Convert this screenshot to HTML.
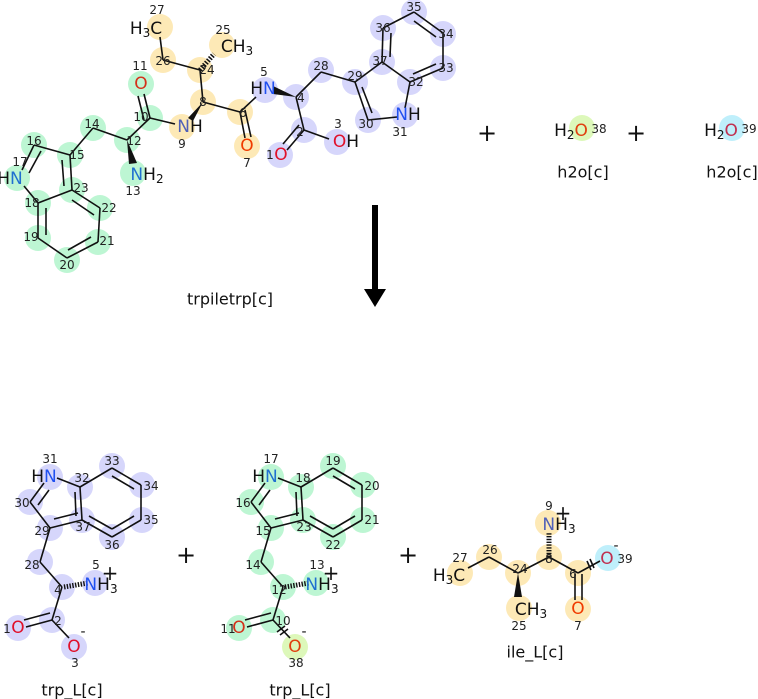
<!DOCTYPE html>
<html><head><meta charset="utf-8"><style>
html,body{margin:0;padding:0;background:#fff;}
svg{display:block;font-family:"DejaVu Sans","Liberation Sans",sans-serif;}
.n{font-size:12px;fill:#222;text-anchor:middle;dominant-baseline:central;}
.a{font-size:17px;text-anchor:middle;dominant-baseline:central;}
.l{font-size:16px;fill:#111;text-anchor:middle;dominant-baseline:central;}
line{stroke:#111;stroke-width:1.6;}
.Y{fill:#fde9b6}.G{fill:#bdf6d3}.B{fill:#d6d6fb}.C{fill:#bfeffb}.L{fill:#ddf8ba}
</style></head><body>
<svg width="758" height="699" viewBox="0 0 758 699">
<g>
<circle class="Y" cx="160" cy="27" r="13"/><circle class="Y" cx="222" cy="45" r="13"/><circle class="Y" cx="163" cy="60" r="13"/><circle class="Y" cx="200" cy="70" r="13"/><circle class="Y" cx="203" cy="102" r="13"/><circle class="Y" cx="240" cy="112" r="13"/><circle class="Y" cx="247" cy="146" r="13"/><circle class="Y" cx="182" cy="127" r="13"/>
<circle class="B" cx="265" cy="90" r="13"/><circle class="B" cx="296" cy="97" r="13"/><circle class="B" cx="321" cy="70" r="13"/><circle class="B" cx="355" cy="82" r="13"/><circle class="B" cx="382" cy="62" r="13"/><circle class="B" cx="383" cy="28" r="13"/><circle class="B" cx="414" cy="12" r="13"/><circle class="B" cx="443" cy="34" r="13"/><circle class="B" cx="443" cy="68" r="13"/><circle class="B" cx="410" cy="82" r="13"/><circle class="B" cx="405" cy="115" r="13"/><circle class="B" cx="368" cy="120" r="13"/><circle class="B" cx="304" cy="130" r="13"/><circle class="B" cx="280" cy="155" r="13"/><circle class="B" cx="337" cy="142" r="13"/>
<circle class="G" cx="141" cy="84" r="13"/><circle class="G" cx="150" cy="118" r="13"/><circle class="G" cx="127" cy="140" r="13"/><circle class="G" cx="133" cy="173" r="13"/><circle class="G" cx="93" cy="128" r="13"/><circle class="G" cx="70" cy="155" r="13"/><circle class="G" cx="34" cy="145" r="13"/><circle class="G" cx="17" cy="178" r="13"/><circle class="G" cx="38" cy="203" r="13"/><circle class="G" cx="72" cy="190" r="13"/><circle class="G" cx="100" cy="208" r="13"/><circle class="G" cx="98" cy="242" r="13"/><circle class="G" cx="67" cy="260" r="13"/><circle class="G" cx="38" cy="238" r="13"/>
</g>
<g>
<line x1="160" y1="37" x2="163" y2="60"/><line x1="163" y1="60" x2="200" y2="70"/>
<line x1="200" y1="70" x2="214" y2="54" stroke-dasharray="1.5 1.5" style="stroke-width:5"/>
<line x1="200" y1="70" x2="203" y2="102"/>
<polygon points="203,102 188,118 193,121" fill="#111"/>
<line x1="203" y1="102" x2="240" y2="112"/>
<line x1="240" y1="112" x2="245" y2="138"/><line x1="245" y1="110" x2="251" y2="137"/>
<line x1="240" y1="112" x2="256" y2="97"/>
<polygon points="296,97 273,86 273,94" fill="#111"/>
<line x1="296" y1="97" x2="321" y2="72"/><line x1="321" y1="72" x2="355" y2="82"/>
<line x1="296" y1="97" x2="304" y2="130"/>
<line x1="304" y1="130" x2="287" y2="150"/><line x1="299" y1="125" x2="283" y2="144"/>
<line x1="304" y1="130" x2="329" y2="139"/>
<line x1="355" y1="82" x2="368" y2="120"/><line x1="362" y1="87" x2="372" y2="113"/>
<line x1="368" y1="120" x2="397" y2="117"/><line x1="405" y1="108" x2="410" y2="82"/>
<line x1="410" y1="82" x2="382" y2="62"/><line x1="382" y1="62" x2="355" y2="82"/>
<line x1="382" y1="62" x2="383" y2="28"/><line x1="390" y1="57" x2="391" y2="33"/>
<line x1="383" y1="28" x2="414" y2="12"/><line x1="414" y1="12" x2="443" y2="33"/><line x1="414" y1="21" x2="436" y2="37"/>
<line x1="443" y1="33" x2="443" y2="68"/><line x1="443" y1="68" x2="410" y2="82"/><line x1="436" y1="64" x2="413" y2="74"/>
<line x1="175" y1="124" x2="150" y2="118"/>
<line x1="150" y1="118" x2="144" y2="94"/><line x1="144" y1="120" x2="138" y2="96"/>
<line x1="150" y1="118" x2="127" y2="140"/>
<polygon points="127,140 129,164 137,163" fill="#111"/>
<line x1="127" y1="140" x2="93" y2="128"/><line x1="93" y1="128" x2="70" y2="155"/>
<line x1="70" y1="155" x2="34" y2="145"/>
<line x1="34" y1="145" x2="22" y2="170"/><line x1="41" y1="151" x2="29" y2="173"/>
<line x1="24" y1="186" x2="38" y2="203"/><line x1="38" y1="203" x2="72" y2="190"/>
<line x1="72" y1="190" x2="70" y2="155"/><line x1="64" y1="186" x2="62" y2="160"/>
<line x1="38" y1="203" x2="38" y2="238"/><line x1="46" y1="208" x2="46" y2="235"/>
<line x1="38" y1="238" x2="67" y2="258"/><line x1="67" y1="258" x2="98" y2="242"/><line x1="68" y1="250" x2="91" y2="237"/>
<line x1="98" y1="242" x2="100" y2="208"/><line x1="100" y1="208" x2="72" y2="190"/><line x1="94" y1="215" x2="72" y2="200"/>
</g>
<g>
<text class="a" x="146" y="29" fill="#111">H<tspan font-size="12" dy="4">3</tspan><tspan dy="-4">C</tspan></text>
<text class="a" x="237" y="47" fill="#111">CH<tspan font-size="12" dy="4">3</tspan></text>
<text class="a" x="141" y="84" fill="#d4301a">O</text>
<text class="a" x="190" y="127" fill="#111"><tspan fill="#5060b8">N</tspan>H</text>
<text class="a" x="247" y="146" fill="#f03c00">O</text>
<text class="a" x="263" y="89" fill="#111">H<tspan fill="#2050f0">N</tspan></text>
<text class="a" x="346" y="142" fill="#111"><tspan fill="#e0102a">O</tspan>H</text>
<text class="a" x="281" y="155" fill="#e0102a">O</text>
<text class="a" x="408" y="115" fill="#111"><tspan fill="#2050f0">N</tspan>H</text>
<text class="a" x="147" y="175" fill="#111"><tspan fill="#2070d0">N</tspan>H<tspan font-size="12" dy="4">2</tspan></text>
<text class="a" x="10" y="179" fill="#111">H<tspan fill="#2070d0">N</tspan></text>
</g>
<g>
<text class="n" x="157" y="10">27</text><text class="n" x="223" y="30">25</text><text class="n" x="163" y="61">26</text><text class="n" x="207" y="70">24</text><text class="n" x="140" y="66">11</text><text class="n" x="264" y="72">5</text><text class="n" x="321" y="66">28</text><text class="n" x="355" y="76">29</text><text class="n" x="380" y="61">37</text><text class="n" x="383" y="28">36</text><text class="n" x="414" y="7">35</text><text class="n" x="446" y="34">34</text><text class="n" x="446" y="68">33</text><text class="n" x="416" y="82">32</text><text class="n" x="366" y="124">30</text><text class="n" x="400" y="132">31</text><text class="n" x="338" y="124">3</text><text class="n" x="270" y="155">1</text><text class="n" x="247" y="163">7</text><text class="n" x="182" y="144">9</text><text class="n" x="141" y="117">10</text><text class="n" x="134" y="141">12</text><text class="n" x="133" y="191">13</text><text class="n" x="92" y="124">14</text><text class="n" x="34" y="141">16</text><text class="n" x="20" y="162">17</text><text class="n" x="77" y="155">15</text><text class="n" x="81" y="188">23</text><text class="n" x="109" y="208">22</text><text class="n" x="107" y="241">21</text><text class="n" x="67" y="265">20</text><text class="n" x="31" y="237">19</text><text class="n" x="32" y="203">18</text><text class="n" x="203" y="102">8</text><text class="n" x="243" y="113">6</text><text class="n" x="301" y="98">4</text><text class="n" x="300" y="132">2</text>
</g>
<text class="l" x="230" y="299">trpiletrp[c]</text>

<g font-size="24" text-anchor="middle" dominant-baseline="central" fill="#111">
<text x="487" y="133">+</text><text x="636" y="133">+</text>
<text x="186" y="555">+</text><text x="408" y="555">+</text>
</g>
<circle class="L" cx="582" cy="128" r="13"/><circle class="C" cx="732" cy="128" r="13"/>
<text class="a" x="571" y="131" fill="#111">H<tspan font-size="12" dy="4">2</tspan><tspan dy="-4" fill="#e04010">O</tspan></text>
<text class="n" x="599" y="129">38</text>
<text class="a" x="721" y="131" fill="#111">H<tspan font-size="12" dy="4">2</tspan><tspan dy="-4" fill="#c03050">O</tspan></text>
<text class="n" x="749" y="129">39</text>
<text class="l" x="583" y="172">h2o[c]</text><text class="l" x="732" y="172">h2o[c]</text>

<rect x="372" y="205" width="6" height="86" fill="#000"/>
<polygon points="364,289 386,289 375,307" fill="#000"/>

<g>
<circle class="B" cx="50" cy="477" r="13"/><circle class="B" cx="80" cy="487" r="13"/><circle class="B" cx="112" cy="466" r="13"/><circle class="B" cx="142" cy="485" r="13"/><circle class="B" cx="142" cy="520" r="13"/><circle class="B" cx="112" cy="537" r="13"/><circle class="B" cx="82" cy="520" r="13"/><circle class="B" cx="30" cy="502" r="13"/><circle class="B" cx="50" cy="528" r="13"/><circle class="B" cx="40" cy="562" r="13"/><circle class="B" cx="62" cy="587" r="13"/><circle class="B" cx="95" cy="583" r="13"/><circle class="B" cx="52" cy="620" r="13"/><circle class="B" cx="18" cy="628" r="13"/><circle class="B" cx="74" cy="647" r="13"/>
<line x1="57" y1="478" x2="80" y2="487"/><line x1="80" y1="487" x2="82" y2="520"/><line x1="75" y1="492" x2="76" y2="516"/>
<line x1="82" y1="520" x2="50" y2="528"/><line x1="78" y1="513" x2="54" y2="519"/>
<line x1="50" y1="528" x2="30" y2="502"/><line x1="30" y1="502" x2="44" y2="483"/><line x1="38" y1="505" x2="49" y2="490"/>
<line x1="80" y1="487" x2="112" y2="468"/><line x1="112" y1="468" x2="141" y2="485"/><line x1="112" y1="476" x2="134" y2="489"/>
<line x1="141" y1="485" x2="141" y2="520"/><line x1="141" y1="520" x2="112" y2="537"/><line x1="134" y1="516" x2="112" y2="529"/>
<line x1="112" y1="537" x2="82" y2="520"/><line x1="112" y1="529" x2="89" y2="516"/>
<line x1="50" y1="528" x2="40" y2="562"/><line x1="40" y1="562" x2="62" y2="587"/>
<line x1="64" y1="587" x2="88" y2="583" stroke-dasharray="1.4 1.4" style="stroke-width:5"/>
<line x1="62" y1="587" x2="52" y2="620"/>
<line x1="52" y1="620" x2="26" y2="627"/><line x1="50" y1="613" x2="24" y2="620"/>
<line x1="52" y1="620" x2="69" y2="638"/>
<text class="a" x="44" y="477" fill="#111">H<tspan fill="#2050f0">N</tspan></text>
<text class="a" x="101" y="585" fill="#111"><tspan fill="#2050f0">N</tspan>H<tspan font-size="12" dy="4">3</tspan></text>
<text x="110" y="573" font-size="20" text-anchor="middle" dominant-baseline="central" fill="#111">+</text>
<text class="a" x="18" y="628" fill="#e0102a">O</text>
<text class="a" x="74" y="647" fill="#e0102a">O</text>
<text x="83" y="636" font-size="14" text-anchor="middle" fill="#111">-</text>
<text class="n" x="50" y="459">31</text><text class="n" x="112" y="461">33</text><text class="n" x="82" y="478">32</text><text class="n" x="151" y="486">34</text><text class="n" x="22" y="503">30</text><text class="n" x="151" y="520">35</text><text class="n" x="42" y="531">29</text><text class="n" x="83" y="527">37</text><text class="n" x="112" y="545">36</text><text class="n" x="32" y="565">28</text><text class="n" x="96" y="565">5</text><text class="n" x="58" y="590">4</text><text class="n" x="58" y="621">2</text><text class="n" x="7" y="629">1</text><text class="n" x="75" y="663">3</text>
<text class="l" x="72" y="690">trp_L[c]</text>
</g>

<g transform="translate(221,0)">
<circle class="G" cx="50" cy="477" r="13"/><circle class="G" cx="80" cy="487" r="13"/><circle class="G" cx="112" cy="466" r="13"/><circle class="G" cx="142" cy="485" r="13"/><circle class="G" cx="142" cy="520" r="13"/><circle class="G" cx="112" cy="537" r="13"/><circle class="G" cx="82" cy="520" r="13"/><circle class="G" cx="30" cy="502" r="13"/><circle class="G" cx="50" cy="528" r="13"/><circle class="G" cx="40" cy="562" r="13"/><circle class="G" cx="62" cy="587" r="13"/><circle class="G" cx="95" cy="583" r="13"/><circle class="G" cx="52" cy="620" r="13"/><circle class="G" cx="18" cy="628" r="13"/><circle class="L" cx="74" cy="647" r="13"/>
<line x1="57" y1="478" x2="80" y2="487"/><line x1="80" y1="487" x2="82" y2="520"/><line x1="75" y1="492" x2="76" y2="516"/>
<line x1="82" y1="520" x2="50" y2="528"/><line x1="78" y1="513" x2="54" y2="519"/>
<line x1="50" y1="528" x2="30" y2="502"/><line x1="30" y1="502" x2="44" y2="483"/><line x1="38" y1="505" x2="49" y2="490"/>
<line x1="80" y1="487" x2="112" y2="468"/><line x1="112" y1="468" x2="141" y2="485"/><line x1="112" y1="476" x2="134" y2="489"/>
<line x1="141" y1="485" x2="141" y2="520"/><line x1="141" y1="520" x2="112" y2="537"/><line x1="134" y1="516" x2="112" y2="529"/>
<line x1="112" y1="537" x2="82" y2="520"/><line x1="112" y1="529" x2="89" y2="516"/>
<line x1="50" y1="528" x2="40" y2="562"/><line x1="40" y1="562" x2="62" y2="587"/>
<line x1="64" y1="587" x2="88" y2="583" stroke-dasharray="1.4 1.4" style="stroke-width:5"/>
<line x1="62" y1="587" x2="52" y2="620"/>
<line x1="52" y1="620" x2="26" y2="627"/><line x1="50" y1="613" x2="24" y2="620"/>
<line x1="52" y1="620" x2="69" y2="638"/><line x1="56" y1="632" x2="64" y2="626"/><line x1="59" y1="635" x2="67" y2="629"/>
<text class="a" x="44" y="477" fill="#111">H<tspan fill="#2070d0">N</tspan></text>
<text class="a" x="101" y="585" fill="#111"><tspan fill="#2070d0">N</tspan>H<tspan font-size="12" dy="4">3</tspan></text>
<text x="110" y="573" font-size="20" text-anchor="middle" dominant-baseline="central" fill="#111">+</text>
<text class="a" x="18" y="628" fill="#d4301a">O</text>
<text class="a" x="74" y="647" fill="#e04010">O</text>
<text x="83" y="636" font-size="14" text-anchor="middle" fill="#111">-</text>
<text class="n" x="50" y="459">17</text><text class="n" x="112" y="461">19</text><text class="n" x="82" y="478">18</text><text class="n" x="151" y="486">20</text><text class="n" x="22" y="503">16</text><text class="n" x="151" y="520">21</text><text class="n" x="42" y="531">15</text><text class="n" x="83" y="527">23</text><text class="n" x="112" y="545">22</text><text class="n" x="32" y="565">14</text><text class="n" x="96" y="565">13</text><text class="n" x="58" y="590">12</text><text class="n" x="62" y="621">10</text><text class="n" x="7" y="629">11</text><text class="n" x="75" y="663">38</text>
<text class="l" x="79" y="690">trp_L[c]</text>
</g>

<g>
<circle class="Y" cx="460" cy="573" r="13"/><circle class="Y" cx="489" cy="557" r="13"/><circle class="Y" cx="518" cy="573" r="13"/><circle class="Y" cx="519" cy="608" r="13"/><circle class="Y" cx="549" cy="557" r="13"/><circle class="Y" cx="548" cy="523" r="13"/><circle class="Y" cx="578" cy="573" r="13"/><circle class="Y" cx="578" cy="609" r="13"/><circle class="C" cx="608" cy="558" r="13"/>
<line x1="468" y1="568" x2="489" y2="557"/><line x1="489" y1="557" x2="518" y2="573"/><line x1="518" y1="573" x2="549" y2="557"/><line x1="549" y1="557" x2="578" y2="573"/>
<polygon points="518,573 514,597 522,597" fill="#111"/>
<line x1="549" y1="557" x2="549" y2="533" stroke-dasharray="1.4 1.4" style="stroke-width:5"/>
<line x1="575" y1="574" x2="575" y2="600"/><line x1="582" y1="574" x2="582" y2="600"/>
<line x1="578" y1="573" x2="600" y2="561"/><line x1="587" y1="561" x2="591" y2="570"/><line x1="590" y1="559" x2="594" y2="568"/>
<text class="a" x="449" y="576" fill="#111">H<tspan font-size="12" dy="4">3</tspan><tspan dy="-4">C</tspan></text>
<text class="a" x="531" y="610" fill="#111">CH<tspan font-size="12" dy="4">3</tspan></text>
<text class="a" x="559" y="525" fill="#111"><tspan fill="#5060b8">N</tspan>H<tspan font-size="12" dy="4">3</tspan></text>
<text x="563" y="513" font-size="20" text-anchor="middle" dominant-baseline="central" fill="#111">+</text>
<text class="a" x="578" y="609" fill="#f03c00">O</text>
<text class="a" x="607" y="559" fill="#c03050">O</text>
<text x="616" y="550" font-size="14" text-anchor="middle" fill="#111">-</text>
<text class="n" x="460" y="558">27</text><text class="n" x="490" y="550">26</text><text class="n" x="520" y="569">24</text><text class="n" x="519" y="626">25</text><text class="n" x="549" y="559">8</text><text class="n" x="549" y="506">9</text><text class="n" x="573" y="574">6</text><text class="n" x="578" y="626">7</text><text class="n" x="625" y="559">39</text>
<text class="l" x="535" y="652">ile_L[c]</text>
</g>
</svg>
</body></html>
